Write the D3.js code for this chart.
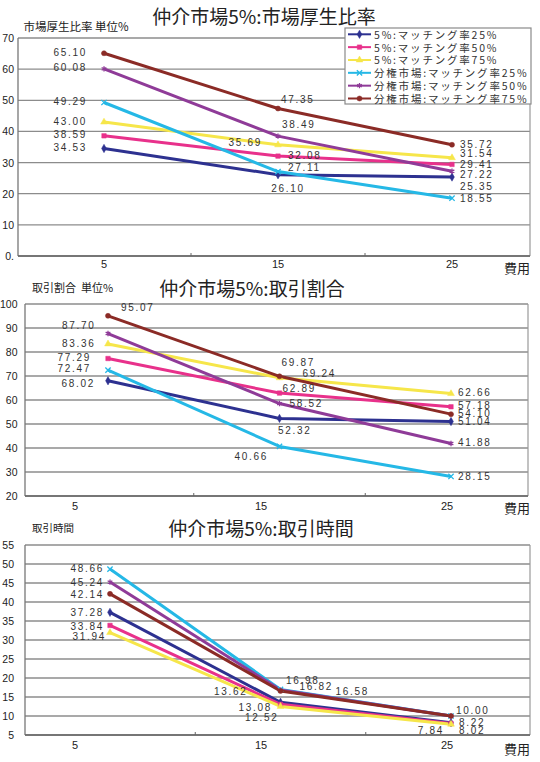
<!DOCTYPE html>
<html><head><meta charset="utf-8">
<script src="https://cdn.jsdelivr.net/npm/d3@7"></script>
<style>body{margin:0;background:#fff} svg{display:block}</style>
</head><body>
<svg id="c" width="540" height="762"></svg>
<script>
// ---------- DATA ----------
const costs = [5, 15, 25];
const costTickLabels = ["5", "15", "25"];
const seriesNames = [
  "5%:マッチング率25%", "5%:マッチング率50%", "5%:マッチング率75%",
  "分権市場:マッチング率25%", "分権市場:マッチング率50%", "分権市場:マッチング率75%"
];
// 市場厚生比率
const welfareSeries = [
  [34.53, 26.10, 25.35],
  [38.59, 32.08, 29.41],
  [43.00, 35.69, 31.54],
  [49.29, 27.11, 18.55],
  [60.08, 38.49, 27.22],
  [65.10, 47.35, 35.72]
];
const welfareTicks = [0, 10, 20, 30, 40, 50, 60, 70];
const welfareTickLabels = ["0.", "10", "20", "30", "40", "50", "60", "70"];
// 取引割合
const shareSeries = [
  [68.02, 52.32, 51.04],
  [77.29, 62.89, 57.18],
  [83.36, 69.24, 62.66],
  [72.47, 40.66, 28.15],
  [87.70, 58.52, 41.88],
  [95.07, 69.87, 54.10]
];
const shareTicks = [20, 30, 40, 50, 60, 70, 80, 90, 100];
// 取引時間
const timeSeries = [
  [37.28, 13.62, 8.22],
  [33.84, 13.08, 8.02],
  [31.94, 12.52, 7.84],
  [48.66, 16.98, 10.00],
  [45.24, 16.82, 10.00],
  [42.14, 16.58, 10.00]
];
const timeTicks = [5, 10, 15, 20, 25, 30, 35, 40, 45, 50, 55];

// ---------- STYLE / LAYOUT ----------
const colors = ["#2d3190", "#e8318b", "#f6e64a", "#25b8e6", "#8f3b98", "#8b2b26"];
const symbols = [d3.symbolDiamond, d3.symbolSquare, d3.symbolTriangle, d3.symbolX, d3.symbolAsterisk, d3.symbolCircle];
const strokeSym = [false, false, false, true, true, false];
const JP = "'Noto Sans CJK JP','Noto Sans',sans-serif";
const NUM = "'Liberation Sans',Arial,sans-serif";

// label placement [dx, dy, anchor] per series per point
const welfareLabelPos = [
  [[-17,-1,"end"], [10,14,"middle"], [8,9.5,"start"]],
  [[-17,-1,"end"], [10,-1,"start"], [8,0,"start"]],
  [[-17,-1,"end"], [-16,-2.5,"end"], [8,-4,"start"]],
  [[-17,-1,"end"], [10,-4,"start"], [8,0,"start"]],
  [[-17,-1,"end"], [4,-12,"start"], [8,3,"start"]],
  [[-17,-1,"end"], [3,-9.5,"start"], [8,0,"start"]]
];
const shareLabelPos = [
  [[-13,3,"end"], [-1.5,12,"start"], [7,0,"start"]],
  [[-17,-1,"end"], [3,-5,"start"], [7,-1,"start"]],
  [[-12.5,0,"end"], [23,-4,"start"], [7,-1,"start"]],
  [[-17,-2,"end"], [-11.5,10,"end"], [7,0,"start"]],
  [[-12.5,-8.5,"end"], [10,0,"start"], [7,-1,"start"]],
  [[13,-8,"start"], [2,-14,"start"], [7,-1,"start"]]
];
const timeLabelPos = [
  [[-6,0,"end"], [-33,-10.5,"end"], [8,0,"start"]],
  [[-6,1,"end"], [-8.5,3,"end"], [8,7,"start"]],
  [[-4,4,"end"], [-2,11,"end"], [-7,6.5,"end"]],
  [[-6,-1,"end"], [5.5,-9,"start"], [5,-6,"start"]],
  [[-6,0,"end"], [19,-3.5,"start"], [5,-6,"start"]],
  [[-6,1,"end"], [55,1,"start"], [5,-6,"start"]]
];

const svg = d3.select("#c");

function drawChart(cfg) {
  const g = svg.append("g");
  const y = d3.scaleLinear().domain([cfg.ticks[0], cfg.ticks[cfg.ticks.length-1]]).range([cfg.bottom, cfg.top]);
  const x = d3.scaleLinear().domain([5, 25]).range(cfg.xRange);
  const xl = d3.scaleLinear().domain([5, 25]).range(cfg.xLabelRange);

  // gridlines
  g.selectAll("line.grid").data(cfg.ticks).join("line")
    .attr("x1", cfg.left).attr("x2", cfg.right)
    .attr("y1", d => y(d)).attr("y2", d => y(d))
    .attr("stroke", "#8c8c8c").attr("stroke-width", 1.3);
  // borders
  g.append("line").attr("x1", cfg.left).attr("x2", cfg.left).attr("y1", cfg.top).attr("y2", cfg.bottom)
    .attr("stroke", "#777").attr("stroke-width", 1.3);
  g.append("line").attr("x1", cfg.right).attr("x2", cfg.right).attr("y1", cfg.top).attr("y2", cfg.bottom)
    .attr("stroke", "#999").attr("stroke-width", 1.2);
  g.append("line").attr("x1", cfg.left).attr("x2", cfg.right).attr("y1", cfg.bottom).attr("y2", cfg.bottom)
    .attr("stroke", "#666").attr("stroke-width", 1.4);
  // minor x ticks
  g.selectAll("line.mt").data([10, 20]).join("line")
    .attr("x1", d => x(d)).attr("x2", d => x(d))
    .attr("y1", cfg.bottom).attr("y2", cfg.bottom - 3)
    .attr("stroke", "#666").attr("stroke-width", 1);

  // y tick labels
  g.selectAll("text.yt").data(cfg.ticks).join("text")
    .attr("x", cfg.yLabelX).attr("y", d => y(d))
    .attr("text-anchor", "end").attr("dominant-baseline", "central")
    .attr("font-family", NUM).attr("font-size", 10.5).attr("fill", "#222")
    .text((d, i) => cfg.tickLabels ? cfg.tickLabels[i] : d);
  // x tick labels
  g.selectAll("text.xt").data(costs).join("text")
    .attr("x", d => xl(d)).attr("y", cfg.xLabelY)
    .attr("text-anchor", "middle").attr("dominant-baseline", "central")
    .attr("font-family", NUM).attr("font-size", 11).attr("fill", "#222")
    .text((d, i) => costTickLabels[i]);
  g.append("text").attr("x", 530).attr("y", cfg.unitY)
    .attr("text-anchor", "end").attr("dominant-baseline", "central")
    .attr("font-family", JP).attr("font-size", 13).attr("fill", "#222").text("費用");

  // titles
  g.append("text").attr("x", cfg.titleX).attr("y", cfg.titleY)
    .attr("text-anchor", "middle").attr("dominant-baseline", "central")
    .attr("font-family", JP).attr("font-size", 19).attr("font-weight", 400).attr("fill", "#222")
    .text(cfg.title);
  g.append("text").attr("x", cfg.yTitleX).attr("y", cfg.yTitleY)
    .attr("dominant-baseline", "central").style("white-space", "pre")
    .attr("font-family", JP).attr("font-size", cfg.yTitleSize).attr("fill", "#222")
    .text(cfg.yTitle);

  // lines
  const line = d3.line().x((d, i) => x(costs[i])).y(d => y(d));
  cfg.series.forEach((vals, s) => {
    g.append("path").attr("d", line(vals)).attr("fill", "none")
      .attr("stroke", colors[s]).attr("stroke-width", 3).attr("stroke-linejoin", "round");
  });
  cfg.series.forEach((vals, s) => {
    g.selectAll(null).data(vals).join("path")
      .attr("transform", (d, i) => `translate(${x(costs[i])},${y(d)})`)
      .attr("d", d3.symbol().type(symbols[s]).size(20))
      .attr("fill", strokeSym[s] ? "none" : colors[s])
      .attr("stroke", colors[s]).attr("stroke-width", strokeSym[s] ? 1.3 : 0.5);
  });
  // data labels (identical labels at identical spots drawn once)
  const seen = new Set();
  cfg.series.forEach((vals, s) => {
    vals.forEach((d, i) => {
      const p = cfg.labelPos[s][i];
      const lx = x(costs[i]) + p[0], lyy = y(d) + p[1];
      const key = d.toFixed(2) + "|" + lx.toFixed(1) + "|" + lyy.toFixed(1);
      if (seen.has(key)) return;
      seen.add(key);
      g.append("text")
        .attr("x", lx).attr("y", lyy)
        .attr("text-anchor", p[2])
        .attr("dominant-baseline", "central")
        .attr("font-family", NUM).attr("font-size", 10).attr("letter-spacing", 1.7)
        .attr("fill", "#333")
        .text(d.toFixed(2));
    });
  });
}

drawChart({
  series: welfareSeries, ticks: welfareTicks, tickLabels: welfareTickLabels,
  top: 38, bottom: 256, left: 18, right: 530,
  xRange: [104, 452], xLabelRange: [104, 452], xLabelY: 263.5, unitY: 267,
  yLabelX: 14, labelPos: welfareLabelPos,
  title: "仲介市場5%:市場厚生比率", titleX: 264, titleY: 15,
  yTitle: "市場厚生比率 単位%", yTitleX: 23.5, yTitleY: 26, yTitleSize: 11.5
});
drawChart({
  series: shareSeries, ticks: shareTicks,
  top: 304, bottom: 496, left: 25, right: 528,
  xRange: [108, 451], xLabelRange: [75, 447], xLabelY: 506, unitY: 507.5,
  yLabelX: 17.5, labelPos: shareLabelPos,
  title: "仲介市場5%:取引割合", titleX: 252, titleY: 287,
  yTitle: "取引割合  単位%", yTitleX: 32, yTitleY: 287, yTitleSize: 11
});
drawChart({
  series: timeSeries, ticks: timeTicks,
  top: 545, bottom: 735, left: 25, right: 530,
  xRange: [110, 451], xLabelRange: [75, 447], xLabelY: 745, unitY: 748,
  yLabelX: 14, labelPos: timeLabelPos,
  title: "仲介市場5%:取引時間", titleX: 261, titleY: 527,
  yTitle: "取引時間", yTitleX: 32, yTitleY: 527, yTitleSize: 10.5
});

// legend (chart 1)
const lg = svg.append("g");
lg.append("rect").attr("x", 345).attr("y", 28).attr("width", 186).attr("height", 76)
  .attr("fill", "#fff").attr("stroke", "#8a8a8a").attr("stroke-width", 1.2);
const ly = d3.scaleLinear().domain([0, 5]).range([34.3, 98.5]);
seriesNames.forEach((name, s) => {
  lg.append("line").attr("x1", 348).attr("x2", 371).attr("y1", ly(s)).attr("y2", ly(s))
    .attr("stroke", colors[s]).attr("stroke-width", 2);
  lg.append("path").attr("transform", `translate(359.5,${ly(s)})`)
    .attr("d", d3.symbol().type(symbols[s]).size(20))
    .attr("fill", strokeSym[s] ? "none" : colors[s])
    .attr("stroke", colors[s]).attr("stroke-width", strokeSym[s] ? 1.3 : 0.5);
  lg.append("text").attr("x", 374).attr("y", ly(s)).attr("dominant-baseline", "central")
    .attr("font-family", JP).attr("font-size", 10.5).attr("letter-spacing", 1.8)
    .attr("fill", "#333").text(name);
});
</script>
</body></html>
